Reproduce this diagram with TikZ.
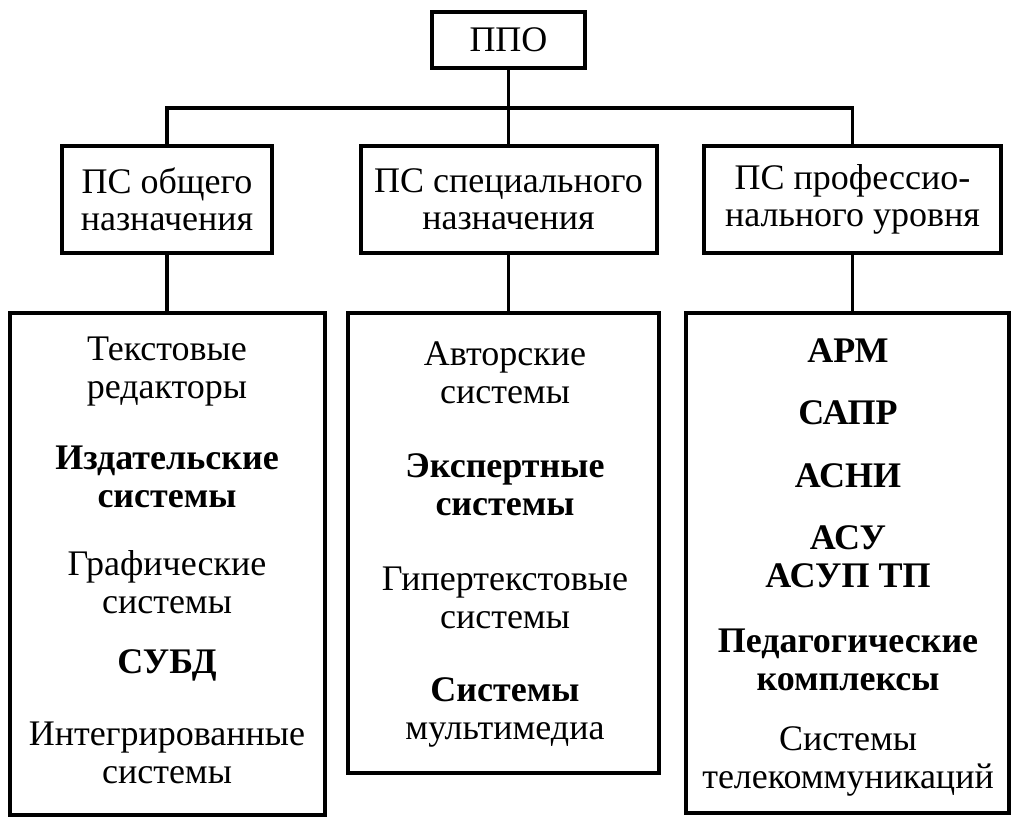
\documentclass[tikz,border=0pt]{standalone}
\usepackage{fontspec}
\setmainfont{Liberation Serif}

\begin{document}
\begin{tikzpicture}[x=0.5pt,y=-0.5pt,
		box/.style={draw, line width=2pt, inner sep=0pt, align=center, font=\fontsize{18}{18.5}\selectfont},
		item/.style={align=center, font=\fontsize{18}{19}\selectfont},
		link/.style={line width=1.6pt}]
	\useasboundingbox (0,0) rectangle (1018,824);

	% top level
	\node[box, minimum width=76.5pt, minimum height=28pt] (ppo) at (508.5,40) {ППО};
	\coordinate (bar) at (508.5,108);

	% second level
	\node[box, minimum width=105pt, minimum height=53.5pt] (m1) at (167,199.5) {ПС общего\\назначения};
	\node[box, minimum width=148pt, minimum height=53.5pt] (m2) at (508.5,199.5) {ПС специального\\назначения};
	\node[box, minimum width=148.5pt, minimum height=53.5pt] (m3) at (852.5,199.5) {ПС профессио-\\нального уровня};

	% third level
	\node[box, minimum width=157.5pt, minimum height=251pt] (b1) at (167.5,564) {};
	\node[box, minimum width=155.5pt, minimum height=230pt] (b2) at (503.5,543) {};
	\node[box, minimum width=161.5pt, minimum height=250pt] (b3) at (847.5,563) {};

	\draw[link] (ppo.south) -- (m2.north);
	\draw[link] (m1.north) |- (bar) -| (m3.north);
	\draw[link] (m1.south) -- (m1.south |- b1.north);
	\draw[link] (m2.south) -- (m2.south |- b2.north);
	\draw[link] (m3.south) -- (m3.south |- b3.north);

	% items, first column
	\node[item] (t11) at (167,372) {Текстовые\\редакторы};
	\node[item, font=\fontsize{18}{19}\selectfont\bfseries] (t12) at (167,477) {Издательские\\системы};
	\node[item] (t13) at (167,582) {Графические\\системы};
	\node[item, font=\fontsize{18}{19}\selectfont\bfseries] (t14) at (167,665) {СУБД};
	\node[item] (t15) at (167,753) {Интегрированные\\системы};

	% items, second column
	\node[item] (t21) at (505,373) {Авторские\\системы};
	\node[item, font=\fontsize{18}{19}\selectfont\bfseries] (t22) at (505,485) {Экспертные\\системы};
	\node[item] (t23) at (505,598) {Гипертекстовые\\системы};
	\node[item] (t24) at (505,712) {\textbf{Системы}\\мультимедиа};

	% items, third column
	\node[item, font=\fontsize{18}{19}\selectfont\bfseries] (t31) at (848,351) {АРМ};
	\node[item, font=\fontsize{18}{19}\selectfont\bfseries] (t32) at (848,413) {САПР};
	\node[item, font=\fontsize{18}{19}\selectfont\bfseries] (t33) at (848,476) {АСНИ};
	\node[item, font=\fontsize{18}{19}\selectfont\bfseries] (t34) at (848,557) {АСУ\\АСУП ТП};
	\node[item, font=\fontsize{18}{19}\selectfont\bfseries] (t35) at (848,660) {Педагогические\\комплексы};
	\node[item] (t36) at (848,761) {Системы\\телекоммуникаций};
\end{tikzpicture}
\end{document}
